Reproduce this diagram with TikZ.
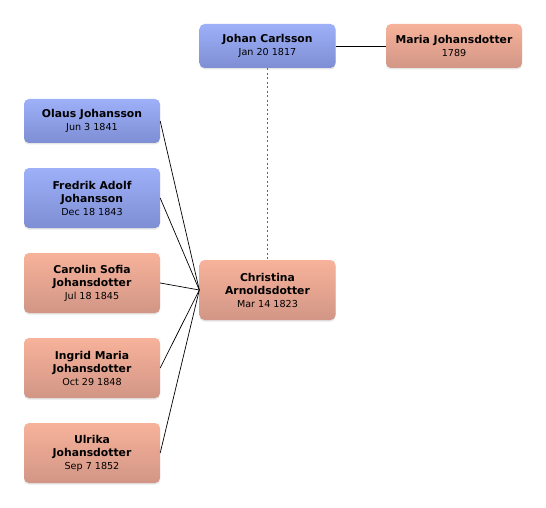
\documentclass[tikz,border=0pt]{standalone}
\usepackage{fontspec}
\setmainfont{DejaVu Sans}
\usetikzlibrary{shadows}
\definecolor{mtop}{HTML}{9DB0F8}
\definecolor{mbot}{HTML}{7E8ED4}
\definecolor{ftop}{HTML}{F7B29A}
\definecolor{fbot}{HTML}{D29686}
\newcommand{\born}[1]{{\fontsize{9.6}{11}\selectfont\mdseries #1}}

\begin{document}
\begin{tikzpicture}[x=1pt,y=-1pt,
    person/.style={rounded corners=5pt, minimum width=136pt, minimum height=44pt, align=center, inner sep=2pt,
      font=\fontsize{10.8}{13}\selectfont\bfseries,
      drop shadow={opacity=0.2, shadow xshift=0pt, shadow yshift=-1.5pt}},
    male/.style={person, top color=mtop, bottom color=mbot},
    female/.style={person, top color=ftop, bottom color=fbot},
    tall/.style={minimum height=60pt}]
  \useasboundingbox (0,0) rectangle (546,508);
  % parents
  \node[male] (johan) at (267.5,46) {Johan Carlsson\\\born{Jan 20 1817}};
  \node[female] (maria) at (454,46) {Maria Johansdotter\\\born{1789}};
  \node[female, tall] (christina) at (267.5,290) {Christina\\Arnoldsdotter\\\born{Mar 14 1823}};
  % children
  \node[male] (olaus) at (92,121) {Olaus Johansson\\\born{Jun 3 1841}};
  \node[male, tall] (fredrik) at (92,198) {Fredrik Adolf\\Johansson\\\born{Dec 18 1843}};
  \node[female, tall] (carolin) at (92,283) {Carolin Sofia\\Johansdotter\\\born{Jul 18 1845}};
  \node[female, tall] (ingrid) at (92,368) {Ingrid Maria\\Johansdotter\\\born{Oct 29 1848}};
  \node[female, tall] (ulrika) at (92,453) {Ulrika\\Johansdotter\\\born{Sep 7 1852}};
  \draw[line width=0.8pt] (johan) -- (maria);
  \draw[gray!80!black, line width=1.4pt, dash pattern=on 2pt off 2.5pt] (johan) -- (christina);
  \foreach \c in {olaus,fredrik,carolin,ingrid,ulrika}
    \draw[line width=0.7pt] (\c.east) -- (christina.west);
\end{tikzpicture}
\end{document}
